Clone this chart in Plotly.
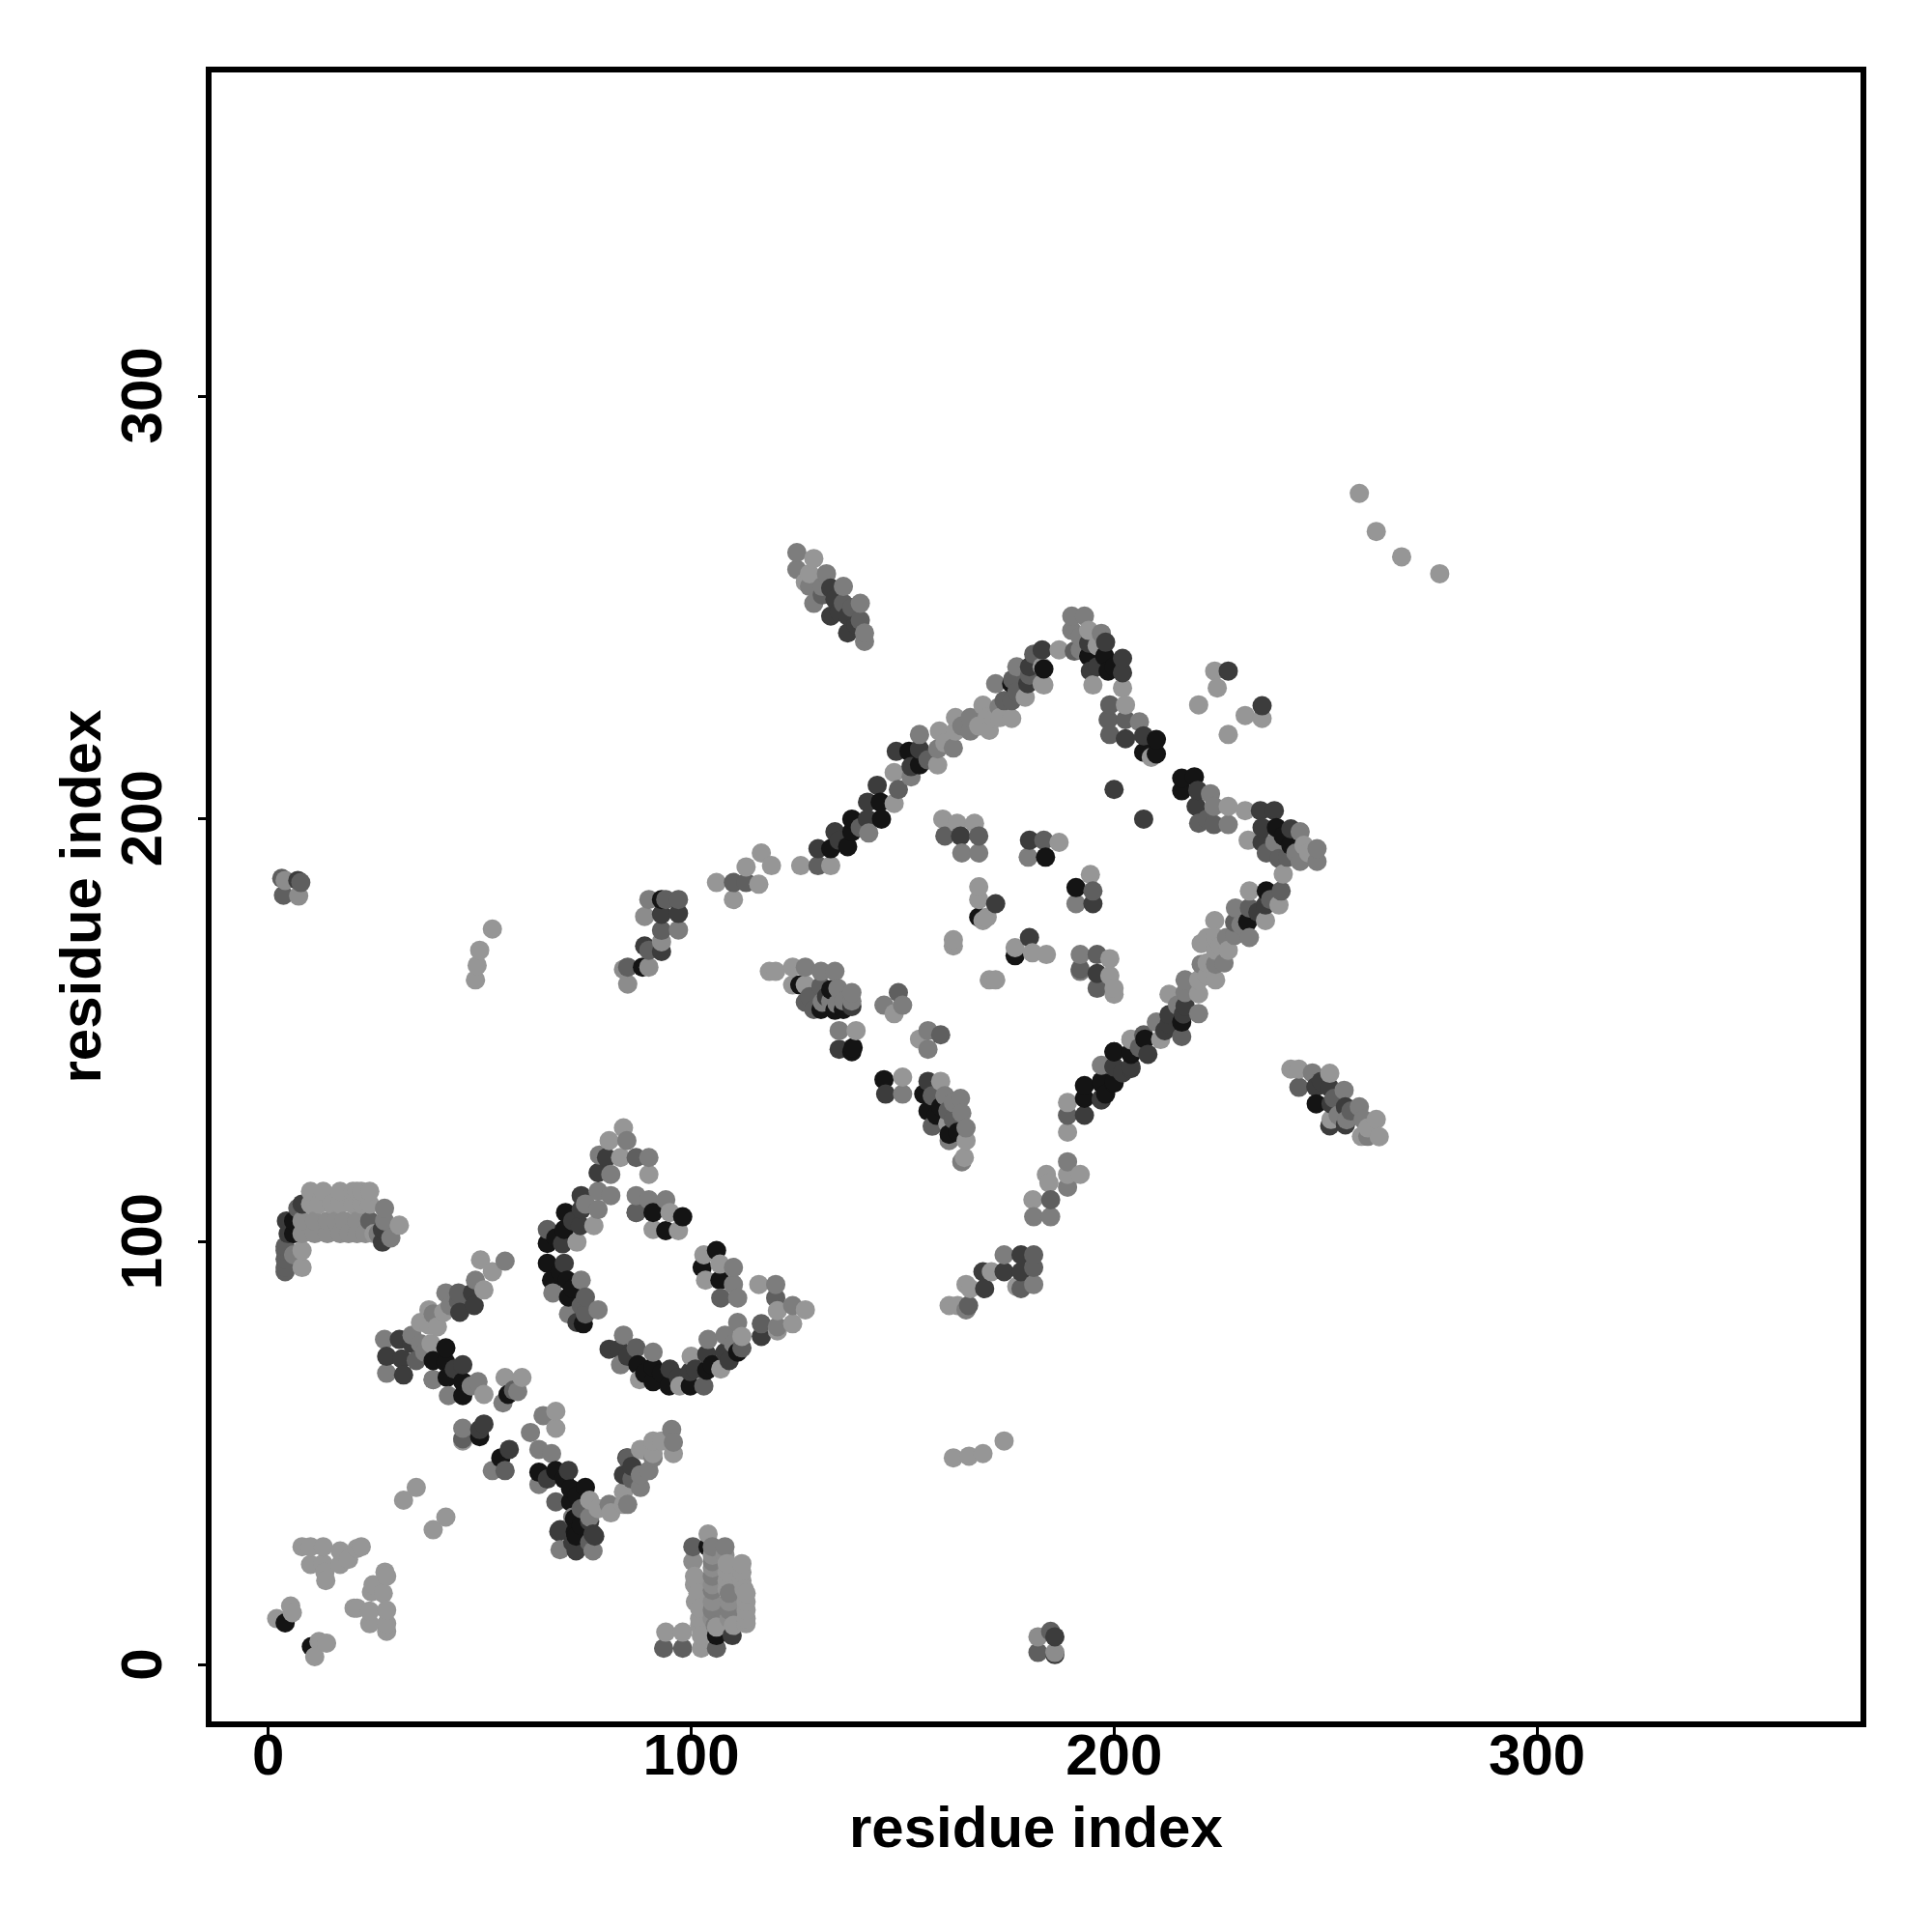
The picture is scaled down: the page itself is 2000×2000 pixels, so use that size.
import plotly.graph_objects as go

gray_levels = [150, 140, 125, 95, 60, 20]

light_points = [
 (10,112),(13,112),(17,112),(20,112),(21,112),(22,112),(24,112),
 (10,109),(12,109),(15,109),(17,109),(20,109),(22,109),(24,109),(31,104),(8,94),(8,98),(25,102),
 (50.2,95.8),(53,93),(51,88.7),(41.5,83.4),(38,84),(36,81),(38,80.4),(38.5,76),(40,80),(56,68),(60,68),(51,64),(46,53),
 (68,60),(68,56),(76,39),(78,37),(84,38),(81,36),(88,51),(84,41),(91,53),(91,50),
 (8,28),(10,28),(13,28),(17,27),(21,27.6),(22,28),(10,23.8),(13,24),(17,23.8),(19,25),(13.4,22),(13.6,20),(27.6,22),(28,21),
 (24.8,19),(24.4,17.3),(27.2,17),(20.3,13.5),(21,13.5),(24,12.8),(28,13),(24,9.8),(28,9.8),(28,8),
 (5.3,14),(5.7,12.4),(2,11),(12,5.6),(13.8,5.2),(11,2),
 (102.4,4),(100.8,21),(100.8,19),(101,15),(102,11),(101.6,17),(102,13.5),(102,9.4),(102.4,7),(104,31),(106,9),(108.5,24),(108.5,22),(108.5,20),(108.5,18),(110,9.4),(112,24),(112,22),(112,20),(112.5,18),(113,17),(113,15),(113,13),(113,11),(113,9.8),
 (94,7.8),(98,7.8),
 (84,127),(80.6,124),(83.3,120),(90,116),(73,100),(77,103.9),(95,107),(91,103),(97,102.7),(103,97),(106.8,94.8),(103.4,91),
 (116,90),(120.4,83.8),(127,84),(124,80.7),(120.4,79),(112,77.7),(100,73),(107,70),(97.3,66),(87.8,67.5),
 (95.8,50),(93,53),(88.6,50.8),
 (148,154),(154,148),(139,150),(150,139),(159,138),(160.7,128),(165,124),(164.6,120),(189,133),(189,126),(204,148),
 (189,116),(192,116),(184,116),(184.6,114),(180.8,110),(171,93),(177,89.5),(165,90),(166,89),(161,85),(163,85),
 (170.5,162),(172,162),(120,164),(118.5,164),(124,165),(124,160.8),(127,160.8),
 (125.9,189),(133,189),(148,203.7),(148,211),(158.3,212.8),(158.7,220.8),(160,218),(162.5,224),(162.5,220.8),(168,222),(170,224),(173,224),(170.5,221),(169,226.9),(171.6,223.8),(175.8,223.8),(179,228.8),(183,232),(183,236),
 (159.5,200),(162.9,199),(167,199),(187,194.5),(194.4,186.9),(168,184),(168,181),(170,176.8),(169,176),(162,171.5),(162,170),
 (176.6,169.6),(180.7,168.4),(184,168),(199,167),(199,163),(200,160),(200,158.6),
 (106,185),(110,181),(113,188.7),(116.6,192),(119,189),(116,184.6),
 (53,174),(50,169),(49.4,165.4),(49,162),
 (129,261.6),(128,258),(127,256),
 (258,277),(262,268),(268,262),(277,258),(162,49),(165.7,49.4),(169,50),(174,53),(32,39),(35,42),(39,32),(42,35),
 (187,240),(194,244.6),(196,241),(195,231.7),(202,231),(183.4,231.7),(202.7,227),(208.8,214.6),
 (223.8,235),(224.4,231),(220,227),(231,224.5),(235,223.8),(227,220),(227,203),(231,202),(231.7,195),(244.9,193.8),(246,192),(240,187),
 (232,183),(239,179.7),(235.8,176),(223.8,176),(224,172),(220.6,170.6),(222,172),(225,170),(222,166),(222,163),(227,169),(224,169),(220,162),(224,162),
 (213,158.6),(220,158.7),(211,147.9),(241.8,140.9),(243.7,140.9),(251,139.9),(251.3,129),(262,129),(258.5,125),(260,127),(262.7,124.9),
]

pale_points = [
 (8,105),(11,105),(14,105),(16,105),(18,105),(21,105),(8,102),(11,102),(14,102),(17,102),(19,102),(21,102),(23,102),
 (105,26),(105,23),(105,19),(105,15),(105,11),(108,26),(109,15),(109,11),(100.4,24.5),
 (89,177),(90,165),(84,164.5),(85,161),(93,171),(4,185.5),(7.2,181.8),(182,6.7),(186,3),
]

mid_points = [
 (26,102),(27.5,108),(27.5,105),(29,101),(6,97),
 (56,95.5),(49,91),(42,88),(43,85),(39,83),(34,78),(37,74),(27.5,77),(36,76),(28,69),(49.6,67),(48,66),(39,67.5),(42.6,63.7),(59,64.7),(55.5,62),(46,56),(53,46),
 (65,59),(62,55),(64,51),(67,50),(64,42.7),(80.6,38),(85,38),(88,45),(88,42),(90,46),(76.8,27),(69,27.3),(76,35),(72,35),
 (105,28),(105,24.5),(105,21),(105,17.7),(105,13),(105.7,9.4),(108,28),(109,17),(109,13),
 (84.8,124),(78.3,120.6),(90,120),(81,116),(81,111),(78,112),(78,107.7),(75,109),(74,91),(67.3,88),(71,83),(78,84),
 (87,111),(90,110),(94,110),(110,94),(110,90),(111,86.8),(120,90),(124,85),(120.4,80),(111,81),(108,78),(104,77),(110,76),
 (91,74),(84,78),(83.3,71),(95.4,55.7),(95.8,52.7),(91,49),
 (145.6,156),(150,156),(156,150),(156,145.6),(135,150),(150,135),(160,134.6),(162,133),(163.7,134),(164,130.5),(165,127),(161,124),(164,119),
 (189,119),(189,113),(181,106),(185,106),(174,97),(181,90),(165,84),
 (127,165),(130.7,164),(134,164),(134.7,160),(136,157),(133,157),(138,157),(138,159),(131,156.7),(134.5,156.3),
 (142,196.7),(152,210),(158.3,216.6),(162,216.8),(164,222),(154,220),(166,224),(166,220.8),(172.8,226.5),(172,232),(177,236),
 (164,192),(168,192),(179.7,191),(191,180),(192,168),(192,164),
 (90,181),(97,173.8),(125,263),(125,259),(132,258),(131,255),(136,255),(128,255),(129,251),(140,251),(141,244),(141,242),
 (190,248),(193,248),(190,244.6),(192,243),(192,240),(197,243.9),(206,223),(222.8,206),(223.6,203),(227,198.7),(238,194.5),(248,193),(243,192),(244,197),(244,190),(248,190),
 (228.7,179),(230,175),(232,172),(228.5,172.5),(226,166),(226.6,172),(220.6,165.7),(224,165.7),(216.8,162),(216.8,159),(215,156),(220,154),(210,152),(204,147.8),(197,141.8),
 (246.9,140),(253,130),(254.4,135.9),(258,132),(255,128.9),(258.9,129),(260,125),
]

middark_points = [
 (7,108),(4,99),(4,98),(4,96),(4,94),(4,93),(24,105),(35,72),(39,67.5),(45,88),(45,86),(46,53.5),(56,46),(58,65),(68,38.6),(74,37),(76,29),(86,44),
 (85,49),(93.5,4),(98,4),(106,4),(100.4,28),(182,3),(185,8),
 (66,103),(87,120),(87,107),(75,87),(75,83),(74,85),(107,86.8),(120,86.8),(116.6,80.7),(103,66),(87,75),(112,75),
 (149,159),(159,149),(157,134.6),(157,127.4),(160.7,131),(162,129),(189,130),(185,110),(165.6,85),(178,89),(181,94),(181,97),
 (130.7,160.5),(127,156.7),(128,158),(129,155),(130,189),(140,198),(149,207),(156,214),(174,228),(177,230),(175.8,228),(176,233),(180,234),(181,239),(160,196),(168,196),(183.4,195),(192,164.5),(195,183),(196,168),(196,160),
 (94,181),(97,181),(93,173.7),(90,169),(85,165),(3.2,186),(3.6,182),(7.7,185),
 (110,185),(113,185),(136,251),(140,247),(131,253),(138,250),
 (190.6,239.7),(199,227),(198.6,223.5),(202.7,223.5),(199,220),(220,199),(222,200),(223.6,198.7),(239,190.7),(236,192),(241,191),(239.5,183),(237,181),(232,179),(228.5,175.6),(243.7,136.6),(216,148.6),(207,149),(206,146),(252,134),(256,131),
]

dark_points = [
 (8,109),(27,103),(27,100),(4.3,105),(4.7,102),(28,73),(31,77),(34,76),(31.6,72.4),(32,68.6),(48.3,88),(45.3,83.4),(48.7,85),(51,57),(50,55.7),(57,51),(46,71),(44,70),
 (84,45),(86,47),(71,46),(66,44),(68.7,31.6),(77.2,30.5),(72.8,27),(72,29),(76,34),(69,32),(76.8,31),(109.7,7),(186,6.7),(186,2.5),
 (80,120),(78,116.4),(74,111),(74,107.7),(72,105),(73.8,103.9),(69.6,99.6),(70,95),(73,81),(87,107),(83,74.7),(85,73),(80.6,74.7),(95,70),(97,68),(101,70),(103.7,73.5),(108,74),(109,72),(99.8,69.4),(116.6,77.7),(84.8,49),
 (146,135),(135,145.6),(156,138),(193,130),(197,134),(202,140),(200,141.5),(204,141.5),(178,97),(174,93),(178,93),(169,93),(169.4,89),
 (132,158),(138,155.7),(135,195),(134,197),(130,193),(141.7,200),(141.7,204),(144,208),(152,212.4),(148.5,216),(154,216.5),(179.6,232),(180,236),(183,240),
 (163.7,196),(180,195),(195,180),(172,180),(180,172),(196,163.5),(200,207),(207,200),
 (93,177.5),(97,177.7),(89,170),(93,168.7),(7,185.5),
 (133,254.6),(134,252),(135,249),(139,246),(133,248),(137,248),(137,244),
 (198,241.8),(194,241.6),(202,238),(196,236),(194.4,235),(202,234.6),(202.7,219),(207,219.7),(227,235),(235,226.8),(219.8,206.8),(219.4,203),
 (234.6,202),(237.9,202),(235,198),(235,194.5),(241.8,197.7),(235.8,179.7),(234,178),(212,150),(213,153.8),(216.8,155.8),(216.4,153.9),(213,151.6),(208,144.4),(204,141),(200,141.4),(197,133.6),(249,138),(247.7,136.7),(251,136.5),(251.3,132.7),(254.7,132),(254.7,127.7),(251,127.5),
]

black_points = [
 (6,105),(6,102),(42,75),(39,72),(42,71.6),(46,67),(42.3,68),(46,63.7),(56.7,64),(50,54),(55,49),
 (64,45.6),(68,46),(70,44),(71.5,41.7),(73,40),(75,42),(71.5,38.6),(72.8,30.5),(72.6,31.5),(72.4,34.6),(74,33),(106,7),(10.2,4.4),(4,10),(104,28),
 (70.3,107),(70,103),(68,101),(66,99.7),(66,95),(69,93),(67,91),(70.7,91),(72,89),(71,87),(74.5,80.7),
 (91,107),(98,106),(94,102.7),(106,98),(102.6,94),(106.8,91),
 (111,74),(105,71),(103.7,69.7),(99.8,66),(94.8,66),(93,69),(91,67),(91,70.5),(89,69),(87.4,71),
 (138.3,146),(138,145),(145.6,138.4),(155,135),(156,131),(158,130),(159,132),(161,125.5),(163,126),(193,134),(193,137),(197,138),(198,135),(200,138),(200,145),(204,145),
 (125.7,160.8),(133,159.7),(130.7,155),(134,154.8),(136,155),
 (133,193),(137,193.5),(138,197),(138,200),(145,200),(144.7,204),(154,212.8),(151.5,216),(175.8,232),
 (183.8,191),(191,183.8),(168,176.8),(176.6,167.7),(93,181),(88.5,165),
 (183.4,235.5),(194,238.5),(197.8,238.5),(198.6,235),(200,236),(210,218.8),(207,215.8),(210,215.4),
 (216,209.7),(219,210),(216,206.7),(238.4,198),(240,196),(241.8,193.8),(236,183),(231.6,175.7),
 (216,152),(207.3,148),(204,144.4),(200,145),(200,137.6),(197,137.6),(247.8,132.7),
]

groups = [light_points, pale_points, mid_points, middark_points, dark_points, black_points]
tick_vals = [0, 100, 200, 300]
tick_labels_x = ["0", "100", "200", "300"]
tick_labels_y = ["0\u00a0", "100\u00a0", "200\u00a0", "300\u00a0"]
axis_title = "residue index"

# points in reading order of the residue index, as the overlap in the reference suggests
merged = sorted((p[0], p[1], g) for pts, g in zip(groups, gray_levels) for p in pts)

fig = go.Figure(go.Scatter(
    x=[m[0] for m in merged], y=[m[1] for m in merged], mode="markers",
    marker=dict(size=20, color=[f"rgb({m[2]},{m[2]},{m[2]})" for m in merged], line=dict(width=0)),
    showlegend=False, hoverinfo="skip"))

font = dict(family="Liberation Sans", size=60, color="black", weight="bold")
common = dict(showline=True, mirror=True, linecolor="black", linewidth=6, showgrid=False, zeroline=False,
              ticks="outside", ticklen=8, tickwidth=3, tickcolor="black", tickvals=tick_vals,
              tickfont=font)
fig.update_xaxes(range=[-13.4, 376.5], ticklabelstandoff=-31, ticktext=tick_labels_x, **common)
fig.update_yaxes(range=[-13.3, 376.5], tickangle=-90, ticklabelstandoff=14, ticktext=tick_labels_y, **common)
fig.update_layout(width=2000, height=2000, margin=dict(l=211, r=82, t=67, b=226, autoexpand=False),
                  paper_bgcolor="white", plot_bgcolor="white",
                  annotations=[
                      dict(text=axis_title, xref="paper", yref="paper", x=0.5, y=0, yanchor="middle",
                           yshift=-109, showarrow=False, font=font),
                      dict(text=axis_title, xref="paper", yref="paper", x=0, y=0.5, xanchor="center", yanchor="middle",
                           xshift=-136, textangle=-90, showarrow=False, font=font),
                  ])
fig.write_html("out.html")
